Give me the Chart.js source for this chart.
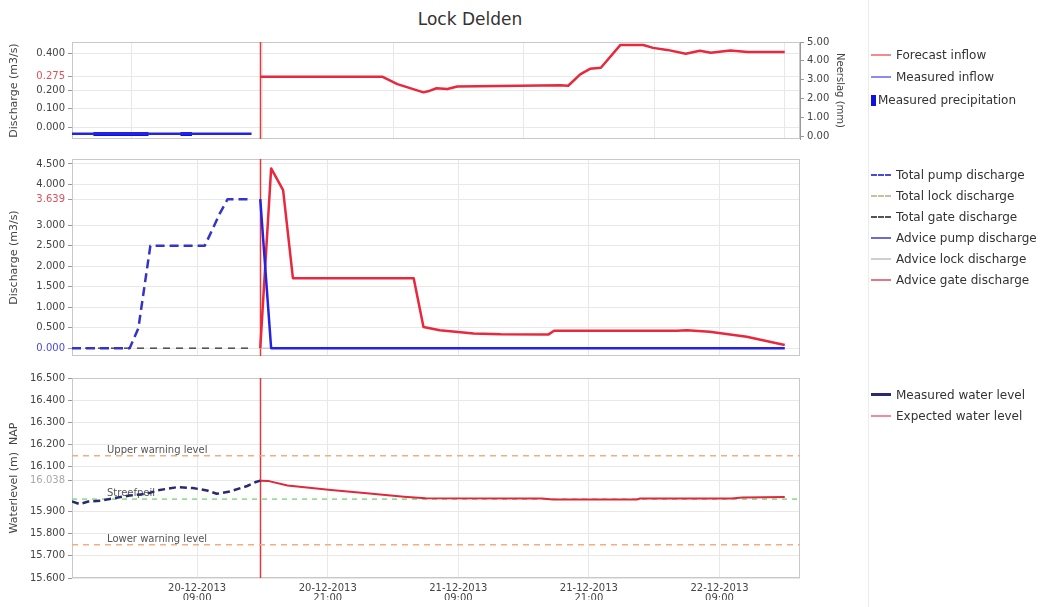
<!DOCTYPE html>
<html lang="en">
<head>
<meta charset="UTF-8" />
<title>Lock Delden</title>
<script src="https://cdn.jsdelivr.net/npm/chart.js"></script>
<style>
  body { margin: 0; background: #fff; font-family: "DejaVu Sans", Verdana, sans-serif; }
  #page { position: relative; width: 1042px; height: 607px; overflow: hidden; }
  canvas { position: absolute; left: 0; }
  h1 { position: absolute; left: 0; top: 9px; width: 940px; margin: 0; text-align: center;
       font-size: 17px; font-weight: normal; color: #333; line-height: 20px; }
  .sep { position: absolute; left: 868px; top: 0; width: 1px; height: 607px; background: #ececec; }
  .legend { position: absolute; left: 871px; font-size: 12px; color: #333; }
  .item { height: 21px; display: flex; align-items: center; white-space: nowrap; }
  .sw { display: inline-block; width: 20px; height: 0; margin-right: 5px; }
  .box { display: inline-block; width: 5px; height: 11px; background: #1010e0; margin-right: 2px; }
</style>
</head>
<body>
<div id="page">
  <h1>Lock Delden</h1>
  <canvas id="inflowChart" width="940" height="148" style="top:0"></canvas>
  <canvas id="dischargeChart" width="940" height="215" style="top:150px"></canvas>
  <canvas id="levelChart" width="940" height="239" style="top:368px"></canvas>

  <div class="sep"></div>

  <div class="legend" style="top:44px">
    <div class="item" style="height:22px"><span class="sw" style="border-top:2px solid #f08c8c"></span>Forecast inflow</div>
    <div class="item" style="height:22px"><span class="sw" style="border-top:2px solid #8c8cf0"></span>Measured inflow</div>
    <div class="item" style="height:24px"><span class="box"></span>Measured precipitation</div>
  </div>

  <div class="legend" style="top:164px">
    <div class="item"><span class="sw" style="border-top:2px dashed #4a4ad8"></span>Total pump discharge</div>
    <div class="item"><span class="sw" style="border-top:2px dashed #c8c0a0"></span>Total lock discharge</div>
    <div class="item"><span class="sw" style="border-top:2px dashed #555"></span>Total gate discharge</div>
    <div class="item"><span class="sw" style="border-top:2px solid #6a6ad8"></span>Advice pump discharge</div>
    <div class="item"><span class="sw" style="border-top:2px solid #cfcfcf"></span>Advice lock discharge</div>
    <div class="item"><span class="sw" style="border-top:2px solid #e07888"></span>Advice gate discharge</div>
  </div>

  <div class="legend" style="top:384px">
    <div class="item"><span class="sw" style="border-top:3px solid #2a2a70"></span>Measured water level</div>
    <div class="item"><span class="sw" style="border-top:2px solid #f08c9c"></span>Expected water level</div>
  </div>
</div>

<script>
  // time axis in hours from 20-12-2013 00:00
  const xTickHours = [9, 21, 33, 45, 57];
  const xTickLabels = [
    ["20-12-2013", "09:00"],
    ["20-12-2013", "21:00"],
    ["21-12-2013", "09:00"],
    ["21-12-2013", "21:00"],
    ["22-12-2013", "09:00"]
  ];
  const xMin = -2.5;
  const xMax = 64.4;
  const nowHour = 14.8;

  // inflow panel
  const inflowTicks = [0, 0.1, 0.2, 0.275, 0.4];
  const rainTicks = [0, 1, 2, 3, 4, 5];
  const forecastHours = [14.8, 26, 27.4, 29.8, 30.4, 31, 32, 32.9, 42.4, 43.1, 44.2, 45.1, 46.1, 47.9, 50, 50.9, 52.2, 53.9, 55.2, 56.2, 58, 59.6, 63];
  const forecastInflow = [0.275, 0.275, 0.235, 0.19, 0.199, 0.212, 0.208, 0.222, 0.229, 0.226, 0.288, 0.318, 0.324, 0.448, 0.448, 0.432, 0.421, 0.40, 0.416, 0.405, 0.418, 0.409, 0.409];
  const measuredInflowHours = [-2.5, 0, 4, 8, 12, 14];
  const measuredInflow = [-0.035, -0.035, -0.035, -0.035, -0.035, -0.035];
  const rainHours = [0, 1, 2, 3, 4, 8];
  const rainMm = [0.2, 0.2, 0.2, 0.2, 0.2, 0.2];

  // discharge panel
  const dischargeTicks = [0, 0.5, 1, 1.5, 2, 2.5, 3, 3.639, 4, 4.5];
  const pumpHours = [-2.5, 2.8, 3.6, 4.7, 9.7, 11.1, 11.8, 13.7];
  const pumpTotal = [0, 0, 0.49, 2.5, 2.5, 3.3, 3.639, 3.639];
  const totalHours = [-2.5, 13.7];
  const lockTotal = [0, 0];
  const gateTotal = [0, 0];
  const advicePumpHours = [14.8, 15.8, 63];
  const advicePump = [3.639, 0, 0];
  const adviceLockHours = [14.8, 63];
  const adviceLock = [0, 0];
  const adviceGateHours = [14.8, 15.8, 16.9, 17.8, 28.9, 29.8, 31.3, 34.4, 36.9, 41.3, 41.8, 53.1, 54.0, 56.1, 59.5, 63];
  const adviceGate = [0, 4.39, 3.86, 1.71, 1.71, 0.52, 0.44, 0.36, 0.34, 0.338, 0.427, 0.427, 0.44, 0.40, 0.28, 0.08];

  // water level panel
  const levelTicks = [15.6, 15.7, 15.8, 15.9, 16.038, 16.1, 16.2, 16.3, 16.4, 16.5];
  const measuredHours = [-2.5, -1.8, -1, 0.1, 1.3, 2.8, 4.4, 5.3, 7.2, 8.6, 9.9, 10.8, 12, 13.6, 14.4, 14.8];
  const measuredLevel = [15.944, 15.933, 15.944, 15.948, 15.959, 15.971, 15.979, 15.994, 16.009, 16.005, 15.994, 15.979, 15.989, 16.014, 16.032, 16.038];
  const expectedHours = [14.8, 15.6, 17.3, 21.3, 24.6, 28, 30, 40.7, 41.7, 49.4, 49.7, 58.1, 59.1, 63];
  const expectedLevel = [16.038, 16.036, 16.016, 15.996, 15.981, 15.966, 15.959, 15.958, 15.953, 15.953, 15.958, 15.958, 15.962, 15.964];
  const levelNames = ["Upper warning level", "Streefpeil", "Lower warning level"];
  const levelValues = [16.15, 15.955, 15.75];

  Chart.defaults.font.family = '"DejaVu Sans", Verdana, sans-serif';
  Chart.defaults.font.size = 10;
  Chart.defaults.color = "#444";
  Chart.defaults.animation = false;

  const pts = (xs, ys) => xs.map((x, i) => ({ x: x, y: ys[i] }));

  function line(data, color, width, dash) {
    return {
      type: "line",
      data: data,
      borderColor: color,
      borderWidth: width,
      borderDash: dash || [],
      pointRadius: 0,
      tension: 0,
      fill: false,
      borderJoinStyle: "round"
    };
  }

  function xAxis(showLabels) {
    return {
      type: "linear",
      min: xMin,
      max: xMax,
      offset: false,
      border: { display: false },
      grid: { color: "#e8e8e8", drawTicks: false },
      afterBuildTicks: (s) => { s.ticks = xTickHours.map((v) => ({ value: v })); },
      afterFit: (s) => { s.height = showLabels ? 22 : 0; },
      ticks: {
        display: showLabels,
        autoSkip: false,
        maxRotation: 0,
        padding: 5,
        font: { size: 10, lineHeight: 1.05 },
        callback: (v) => xTickLabels[xTickHours.indexOf(v)]
      }
    };
  }

  function yAxis(title, min, max, ticks, decimals, special) {
    return {
      type: "linear",
      position: "left",
      min: min,
      max: max,
      border: { display: false },
      grid: { color: "#e8e8e8", tickColor: "#999", tickLength: 4 },
      title: { display: true, text: title, font: { size: 11 }, color: "#444", padding: { top: 8, bottom: 0 } },
      afterBuildTicks: (s) => { s.ticks = ticks.map((v) => ({ value: v })); },
      afterFit: (s) => { s.width = 72; },
      ticks: {
        padding: 3,
        callback: (v) => v.toFixed(decimals),
        color: (ctx) => (ctx.tick && special[ctx.tick.value]) || "#444"
      }
    };
  }

  // plot frame and the "now" line
  const framePlugin = {
    id: "frame",
    beforeDatasetsDraw(chart) {
      const { ctx, chartArea: a, scales } = chart;
      ctx.save();
      ctx.strokeStyle = "#c8c8c8";
      ctx.lineWidth = 1;
      ctx.strokeRect(a.left + 0.5, a.top + 0.5, a.width - 1, a.height - 1);
      const x = Math.round(scales.x.getPixelForValue(nowHour)) + 0.5;
      ctx.strokeStyle = "#e03a3a";
      ctx.lineWidth = 1.5;
      ctx.beginPath();
      ctx.moveTo(x, a.top);
      ctx.lineTo(x, a.bottom);
      ctx.stroke();
      ctx.restore();
    }
  };

  const levelLabelPlugin = {
    id: "levelLabels",
    beforeDatasetsDraw(chart) {
      const { ctx, chartArea: a, scales } = chart;
      ctx.save();
      ctx.font = '10px "DejaVu Sans", Verdana, sans-serif';
      ctx.fillStyle = "#555";
      ctx.textBaseline = "alphabetic";
      levelNames.forEach((name, i) => {
        ctx.fillText(name, a.left + 35, scales.y.getPixelForValue(levelValues[i]) - 3);
      });
      ctx.restore();
    }
  };

  // top panel: inflow and precipitation
  new Chart(document.getElementById("inflowChart"), {
    type: "line",
    data: {
      datasets: [
        line(pts(forecastHours, forecastInflow), "#e8283c", 2.5),
        line(pts(measuredInflowHours, measuredInflow), "#2424e0", 2.5),
        {
          type: "bar",
          yAxisID: "y2",
          data: pts(rainHours, rainMm),
          backgroundColor: "#1010e0",
          borderWidth: 0,
          barPercentage: 1,
          categoryPercentage: 1
        }
      ]
    },
    options: {
      responsive: false,
      layout: { padding: { top: 42, right: 80, bottom: 7, left: 0 } },
      plugins: { legend: { display: false }, tooltip: { enabled: false } },
      scales: {
        x: xAxis(false),
        y: yAxis("Discharge (m3/s)", -0.064, 0.464, inflowTicks, 3, { 0.275: "#e0505a" }),
        y2: {
          type: "linear",
          position: "right",
          min: -0.15,
          max: 5,
          border: { display: true, color: "#999" },
          grid: { drawOnChartArea: false, tickColor: "#999", tickLength: 4 },
          title: { display: true, text: "Neerslag (mm)", color: "#444", font: { size: 10 }, padding: { top: 14, bottom: 0 } },
          afterBuildTicks: (s) => { s.ticks = rainTicks.map((v) => ({ value: v })); },
          afterFit: (s) => { s.width = 60; },
          ticks: { padding: 3, callback: (v) => v.toFixed(2) }
        }
      }
    },
    plugins: [framePlugin]
  });

  // middle panel: discharges
  new Chart(document.getElementById("dischargeChart"), {
    type: "line",
    data: {
      datasets: [
        line(pts(advicePumpHours, advicePump), "#2424e0", 2.5),
        line(pts(adviceGateHours, adviceGate), "#e8283c", 2.5),
        line(pts(adviceLockHours, adviceLock), "#c8c8c8", 1.5),
        line(pts(pumpHours, pumpTotal), "#3434c8", 2.5, [9, 5]),
        line(pts(totalHours, gateTotal), "#555", 1.5, [7, 6]),
        line(pts(totalHours, lockTotal), "#c8c0a0", 1.5, [7, 6])
      ]
    },
    options: {
      responsive: false,
      layout: { padding: { top: 9, right: 140, bottom: 7, left: 0 } },
      plugins: { legend: { display: false }, tooltip: { enabled: false } },
      scales: {
        x: xAxis(false),
        y: yAxis("Discharge (m3/s)", -0.19, 4.62, dischargeTicks, 3, { 3.639: "#e0505a", 0: "#4a4ae0" })
      }
    },
    plugins: [framePlugin]
  });

  // bottom panel: water level
  new Chart(document.getElementById("levelChart"), {
    type: "line",
    data: {
      datasets: [
        line(pts(measuredHours, measuredLevel), "#2a2a70", 2.5, [7, 4]),
        line(pts(expectedHours, expectedLevel), "#e0283c", 2),
        line(pts([xMin, xMax], [levelValues[1], levelValues[1]]), "#86d886", 1.5, [5, 5]),
        line(pts([xMin, xMax], [levelValues[0], levelValues[0]]), "#f2ae80", 1.5, [6, 5]),
        line(pts([xMin, xMax], [levelValues[2], levelValues[2]]), "#f2ae80", 1.5, [6, 5])
      ]
    },
    options: {
      responsive: false,
      layout: { padding: { top: 10, right: 140, bottom: 7, left: 0 } },
      plugins: { legend: { display: false }, tooltip: { enabled: false } },
      scales: {
        x: xAxis(true),
        y: yAxis("Waterlevel (m)  NAP", 15.6, 16.5, levelTicks, 3, { 16.038: "#a8a8a8" })
      }
    },
    plugins: [framePlugin, levelLabelPlugin]
  });
</script>
</body>
</html>
